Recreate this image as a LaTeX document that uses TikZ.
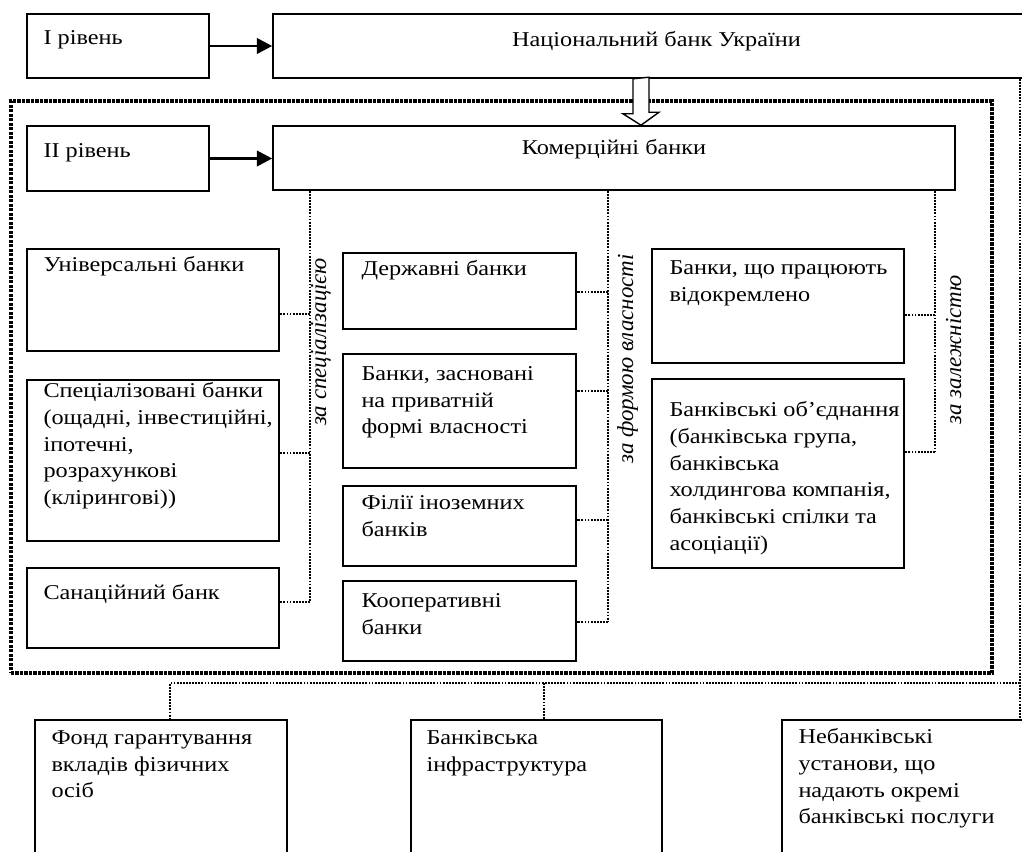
\documentclass[tikz,border=0pt]{standalone}
\usepackage{fontspec}
\setmainfont{Liberation Serif}
\newfontfamily\widefam{Liberation Serif}[FakeStretch=1.15]
\usetikzlibrary{arrows.meta,fit}

\newcommand{\boxfont}{\widefam\fontsize{15}{19}\selectfont}
\newcommand{\lblfont}{\fontsize{16.3}{19}\selectfont\itshape}

\tikzset{
  box/.style={draw, line width=1.1pt, inner sep=0pt},
  txt/.style={anchor=north west, align=left, inner sep=0pt, font=\boxfont, execute at begin node=\strut},
  ctxt/.style={anchor=base, inner sep=0pt, font=\boxfont},
  lbl/.style={anchor=base, rotate=90, inner sep=0pt, font=\lblfont},
  conn/.style={line width=1.3pt, dash pattern=on 1.3pt off 0.9pt},
  frame/.style={draw, line width=2.2pt, dash pattern=on 2.2pt off 1pt, inner sep=0pt},
  arr/.style={line width=2pt, -{Triangle[length=11pt,width=11pt]}},
}

\begin{document}
\begin{tikzpicture}[x=0.025cm,y=-0.025cm]
\useasboundingbox (0,0) rectangle (1022,852);
\clip (0,0) rectangle (1022,852);

% first level
\node[box, fit={(27,14) (209,78)}] (lv1) {};
\node[box, fit={(273,14) (1040,78)}] (nbu) {};
\node[txt] (lv1-t) at ([shift={(17,12)}]lv1.north west) {I рівень};
\node[ctxt] (nbu-t) at ([shift={(0,33)}]nbu.north) {Національний банк України};

% second level
\node[frame, fit={(11,101) (992,673)}] (zone) {};
\node[box, fit={(27,126) (209,191)}] (lv2) {};
\node[box, fit={(273,126) (955,190)}] (kb) {};
\node[txt] (lv2-t) at ([shift={(17,13)}]lv2.north west) {II рівень};
\node[ctxt] (kb-t) at ([shift={(0,29)}]kb.north) {Комерційні банки};

\draw[arr] (lv1.east) -- (nbu.west |- lv1.east);
\draw[arr] (lv2.east) -- (kb.west |- lv2.east);

\coordinate (hx) at (641,0);
\draw[line width=1pt, fill=white] (nbu.south -| hx) ++(-8,0) -- ++(0,35) -- ++(-10,0)
  -- (kb.north -| hx) -- ++(18,-13) -- ++(-10,0) -- ++(0,-35) -- cycle;

% by specialisation
\node[box, fit={(27,249) (279,351)}] (univ) {};
\node[box, fit={(27,380) (279,541)}] (spec) {};
\node[box, fit={(27,568) (279,648)}] (sanat) {};
\node[txt] (univ-t) at ([shift={(17,4)}]univ.north west) {Універсальні банки};
\node[txt] (spec-t) at ([shift={(17,3)}]spec.north west) {Спеціалізовані банки\\(ощадні, інвестиційні,\\іпотечні,\\розрахункові\\(клірингові))};
\node[txt] (sanat-t) at ([shift={(17,13)}]sanat.north west) {Санаційний банк};

% by form of ownership
\node[box, fit={(343,253) (576,329)}] (derzh) {};
\node[box, fit={(343,354) (576,468)}] (priv) {};
\node[box, fit={(343,486) (576,566)}] (filii) {};
\node[box, fit={(343,581) (576,661)}] (koop) {};
\node[txt] (derzh-t) at ([shift={(19,4)}]derzh.north west) {Державні банки};
\node[txt] (priv-t) at ([shift={(19,13)}]priv.north west) {Банки, засновані\\на приватній\\формі власності};
\node[txt] (filii-t) at ([shift={(19,10)}]filii.north west) {Філії іноземних\\банків};
\node[txt] (koop-t) at ([shift={(19,13)}]koop.north west) {Кооперативні\\банки};

% by dependence
\node[box, fit={(652,249) (904,363)}] (okr) {};
\node[box, fit={(652,379) (904,568)}] (obied) {};
\node[txt] (okr-t) at ([shift={(18,12)}]okr.north west) {Банки, що працюють\\відокремлено};
\node[txt] (obied-t) at ([shift={(18,23)}]obied.north west) {Банківські об’єднання\\(банківська група,\\банківська\\холдингова компанія,\\банківські спілки та\\асоціації)};

\node[lbl] (by-spec) at (326,342) {за спеціалізацією};
\node[lbl] (by-own) at (633,359) {за формою власності};
\node[lbl] (by-dep) at (961,350) {за залежністю};

\coordinate (a1) at (310,314);
\coordinate (a2) at (310,453);
\coordinate (a3) at (310,602);
\coordinate (b1) at (608,292);
\coordinate (b2) at (608,391);
\coordinate (b3) at (608,520);
\coordinate (b4) at (608,622);
\coordinate (c1) at (935,315);
\coordinate (c2) at (935,452);
\draw[conn] (kb.south -| a3) -- (a3);
\draw[conn] (kb.south -| b4) -- (b4);
\draw[conn] (kb.south -| c2) -- (c2);
\foreach \p/\n in {a1/univ, a2/spec, a3/sanat, b1/derzh, b2/priv, b3/filii, b4/koop, c1/okr, c2/obied}
  \draw[conn] (\p) -- (\n.east |- \p);

% outside the system
\node[box, fit={(35,720) (287,880)}] (fond) {};
\node[box, fit={(411,720) (662,880)}] (infra) {};
\node[box, fit={(782,720) (1040,880)}] (neb) {};
\node[txt] (fond-t) at ([shift={(17,11)}]fond.north west) {Фонд гарантування\\вкладів фізичних\\осіб};
\node[txt] (infra-t) at ([shift={(16,11)}]infra.north west) {Банківська\\інфраструктура};
\node[txt] (neb-t) at ([shift={(17,9)}]neb.north west) {Небанківські\\установи, що\\надають окремі\\банківські послуги};

\coordinate (d0) at (1020,683);
\coordinate (d1) at (170,683);
\coordinate (d2) at (544,683);
\draw[conn] (nbu.south -| d0) -- (neb.north -| d0);
\draw[conn] (d0) -- (d1) -- (fond.north -| d1);
\draw[conn] (d2) -- (infra.north -| d2);
\end{tikzpicture}
\end{document}
